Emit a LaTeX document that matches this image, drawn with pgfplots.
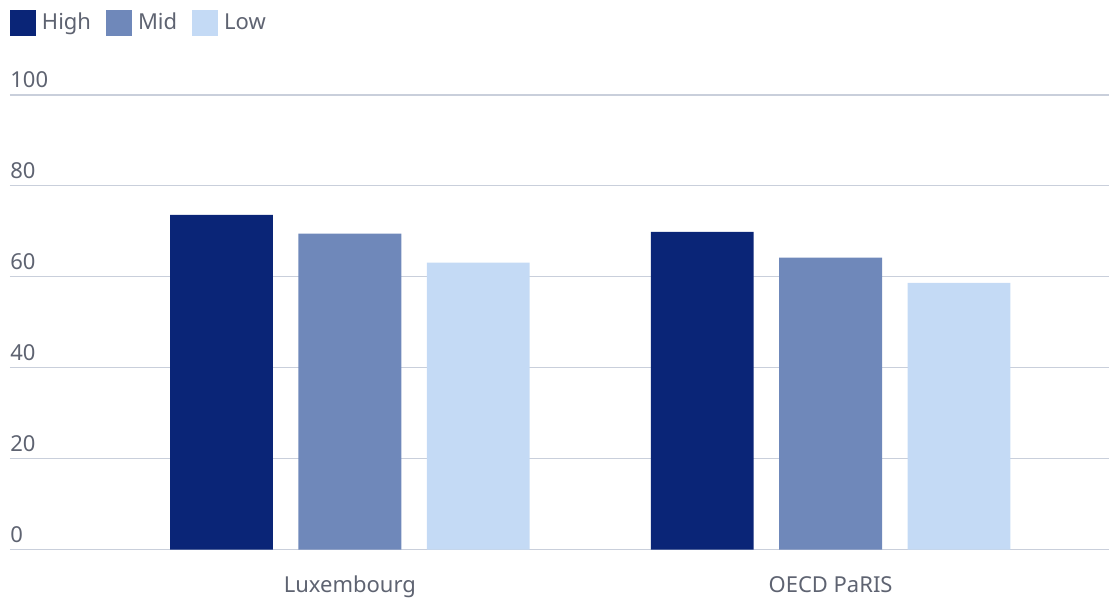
\documentclass[border=0pt]{standalone}
\usepackage{pgfplots}
\pgfplotsset{compat=1.18}
\usepackage{fontspec}
\setmainfont{Noto Sans}
\definecolor{cHigh}{HTML}{0A2577}
\definecolor{cMid}{HTML}{6F88BA}
\definecolor{cLow}{HTML}{C4DAF5}
\definecolor{gridc}{HTML}{C9CFDB}
\definecolor{txt}{HTML}{5E6371}
\begin{document}
\begin{tikzpicture}
\path (0,0) rectangle (555pt,299pt);
\begin{axis}[
  at={(5pt,24pt)}, anchor=south west,
  scale only axis, width=550pt, height=227.5pt,
  xmin=-0.707, xmax=1.580, ymin=0, ymax=100,
  axis line style={draw=none},
  major tick length=0pt,
  ytick={0,20,40,60,80,100},
  xtick={0,1}, xticklabels={Luxembourg, OECD PaRIS},
  ymajorgrids, grid style={gridc, line width=0.6pt},
  /pgf/number format/assume math mode=true,
  tick label style={font=\fontsize{11}{13}\selectfont, text=txt},
  yticklabel style={anchor=base west, inner sep=0pt, yshift=3.5pt},
  xticklabel style={anchor=base, inner sep=0pt, yshift=-21.5pt},
  legend columns=-1,
  legend style={at={(0,1)}, anchor=north west, yshift=42.5pt, draw=none, fill=none,
    inner sep=0pt, outer sep=0pt, font=\fontsize{11}{13}\selectfont, text=txt,
    /tikz/every odd column/.append style={column sep=3pt},
    /tikz/every even column/.append style={column sep=7.5pt},
    nodes={inner sep=0pt, anchor=west}},
  legend image code/.code={\fill[#1] (0pt,-6.5pt) rectangle (13pt,6.5pt);},
]
\addplot[ybar, fill=cHigh, draw=none, bar width=0.214, bar shift=-0.267] coordinates {(0,73.6) (1,69.9)};
\addplot[ybar, fill=cMid, draw=none, bar width=0.214, bar shift=0] coordinates {(0,69.5) (1,64.2)};
\addplot[ybar, fill=cLow, draw=none, bar width=0.214, bar shift=0.267] coordinates {(0,63.1) (1,58.7)};
\legend{High, Mid, Low}
\end{axis}
\end{tikzpicture}
\end{document}
